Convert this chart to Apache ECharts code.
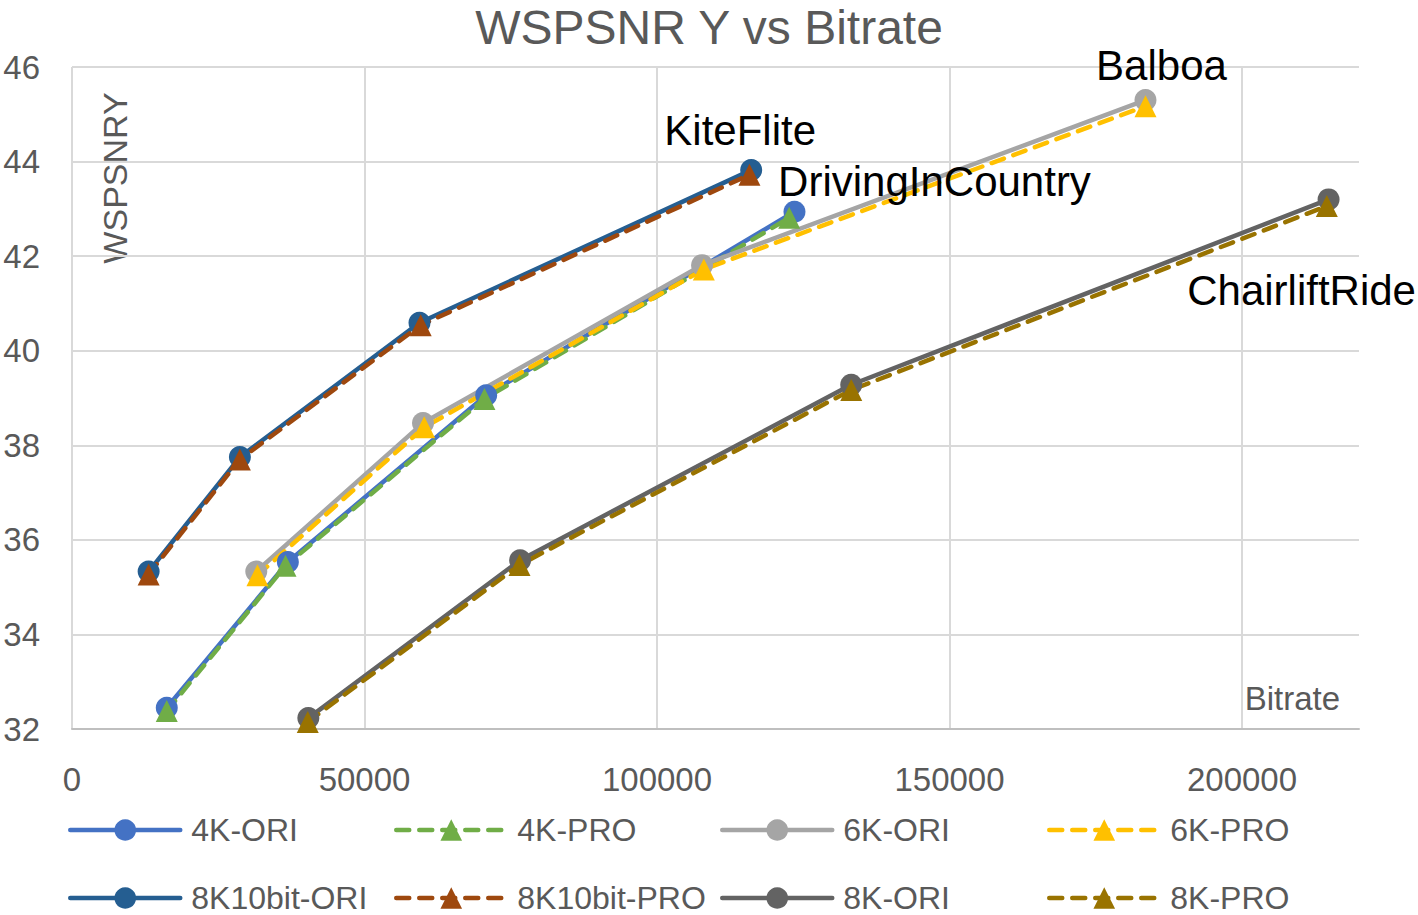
<!DOCTYPE html>
<html>
<head>
<meta charset="utf-8">
<script src="https://cdn.jsdelivr.net/npm/echarts@6/dist/echarts.min.js"></script>
<style>
html,body{margin:0;padding:0;background:#fff;}
#main{width:1418px;height:915px;}
</style>
</head>
<body>
<div id="main"></div>
<script>
// ---- data ----
const seriesNames = ['4K-ORI', '4K-PRO', '6K-ORI', '6K-PRO', '8K10bit-ORI', '8K10bit-PRO', '8K-ORI', '8K-PRO'];
const sequenceNames = ['KiteFlite', 'DrivingInCountry', 'Balboa', 'ChairliftRide'];

const k4OriX = [16200, 36900, 70800, 123500];
const k4OriY = [32.45, 35.53, 39.06, 42.94];
const k4ProX = [16200, 36500, 70500, 122600];
const k4ProY = [32.38, 35.45, 38.98, 42.81];

const k6OriX = [31500, 60000, 107700, 183500];
const k6OriY = [35.33, 38.47, 41.81, 45.30];
const k6ProX = [31700, 60200, 108000, 183500];
const k6ProY = [35.25, 38.38, 41.72, 45.17];

const k8b10OriX = [13100, 28700, 59400, 116100];
const k8b10OriY = [35.33, 37.75, 40.59, 43.82];
const k8b10ProX = [13100, 28700, 59600, 115800];
const k8b10ProY = [35.27, 37.70, 40.54, 43.72];

const k8OriX = [40400, 76600, 133200, 214800];
const k8OriY = [32.23, 35.57, 39.28, 43.20];
const k8ProX = [40300, 76500, 133200, 214500];
const k8ProY = [32.15, 35.47, 39.17, 43.06];

const xTickMin = 0, xTickMax = 220000, xTickStep = 50000;
const yTickMin = 32, yTickMax = 46, yTickStep = 2;

// ---- styling ----
const FONT = 'Liberation Sans';
const colors = ['#4472C4', '#70AD47', '#A5A5A5', '#FFC000', '#255E91', '#9E480E', '#636363', '#997300'];

function makeSeries(idx, xs, ys, labelText, labelOffset) {
  const name = seriesNames[idx];
  const color = colors[idx];
  const dashed = name.indexOf('PRO') >= 0;
  const data = xs.map((x, i) => [x, ys[i]]);
  if (labelText) {
    const last = data.length - 1;
    data[last] = {
      value: data[last],
      label: {
        show: true, formatter: labelText, position: 'inside', offset: labelOffset,
        fontSize: 42, color: '#000000', fontFamily: FONT, textBorderWidth: 0
      }
    };
  }
  return {
    name: name, type: 'line', data: data,
    symbol: dashed ? 'triangle' : 'circle',
    symbolSize: 22,
    lineStyle: { color: color, width: 4.5, type: dashed ? [13, 10] : 'solid', cap: 'round' },
    itemStyle: { color: color, borderWidth: 0 },
    emphasis: { disabled: true },
    animation: false
  };
}

const series = [
  makeSeries(0, k4OriX, k4OriY, sequenceNames[1], [140, -30]),
  makeSeries(1, k4ProX, k4ProY),
  makeSeries(2, k6OriX, k6OriY, sequenceNames[2], [16, -35]),
  makeSeries(3, k6ProX, k6ProY),
  makeSeries(4, k8b10OriX, k8b10OriY, sequenceNames[0], [-11, -40]),
  makeSeries(5, k8b10ProX, k8b10ProY),
  makeSeries(6, k8OriX, k8OriY, sequenceNames[3], [-27, 91]),
  makeSeries(7, k8ProX, k8ProY)
];

const legendCols = [68, 394, 720, 1047];
const legendRows = [830, 898];
const legends = seriesNames.map((n, i) => ({
  data: [n],
  left: legendCols[i % 4],
  top: legendRows[Math.floor(i / 4)] - 16,
  padding: 0,
  itemWidth: 110,
  itemHeight: 27,
  selectedMode: false,
  lineStyle: { width: 4.5 },
  textStyle: { fontSize: 32, color: '#595959', fontFamily: FONT, lineHeight: 32, padding: [0, 0, 0, 6] }
}));

const chart = echarts.init(document.getElementById('main'), null, { renderer: 'svg' });
chart.setOption({
  animation: false,
  backgroundColor: '#ffffff',
  title: {
    text: 'WSPSNR Y vs Bitrate',
    left: 'center',
    top: 0,
    padding: 0,
    textStyle: { fontSize: 48, fontWeight: 'normal', color: '#595959', fontFamily: FONT, lineHeight: 54 }
  },
  legend: legends,
  grid: { left: 72, top: 67, right: 59, bottom: 186, containLabel: false },
  xAxis: {
    type: 'value',
    min: xTickMin, max: xTickMax, interval: xTickStep,
    name: 'Bitrate',
    nameLocation: 'end',
    nameGap: -19,
    nameTextStyle: { fontSize: 33, color: '#595959', fontFamily: FONT, align: 'right', verticalAlign: 'bottom', lineHeight: 33, padding: [0, 0, 14, 0] },
    axisLine: { show: true, lineStyle: { color: '#BFBFBF', width: 2 } },
    axisTick: { show: false },
    axisLabel: { fontSize: 33, color: '#595959', fontFamily: FONT, margin: 34, lineHeight: 33, showMaxLabel: false, formatter: function (v) { return String(v); } },
    splitLine: { show: true, showMaxLine: false, lineStyle: { color: '#D9D9D9', width: 2 } }
  },
  yAxis: {
    type: 'value',
    min: yTickMin, max: yTickMax, interval: yTickStep,
    axisLine: { show: false },
    axisTick: { show: false },
    axisLabel: { fontSize: 33, color: '#595959', fontFamily: FONT, margin: 32 },
    splitLine: { show: true, lineStyle: { color: '#D9D9D9', width: 2 } }
  },
  graphic: [{
    type: 'text',
    x: 115, y: 178,
    rotation: Math.PI / 2,
    style: { text: 'WSPSNRY', fontSize: 34, fontFamily: FONT, fill: '#595959', align: 'center', verticalAlign: 'middle' }
  }],
  series: series
});
</script>
</body>
</html>
